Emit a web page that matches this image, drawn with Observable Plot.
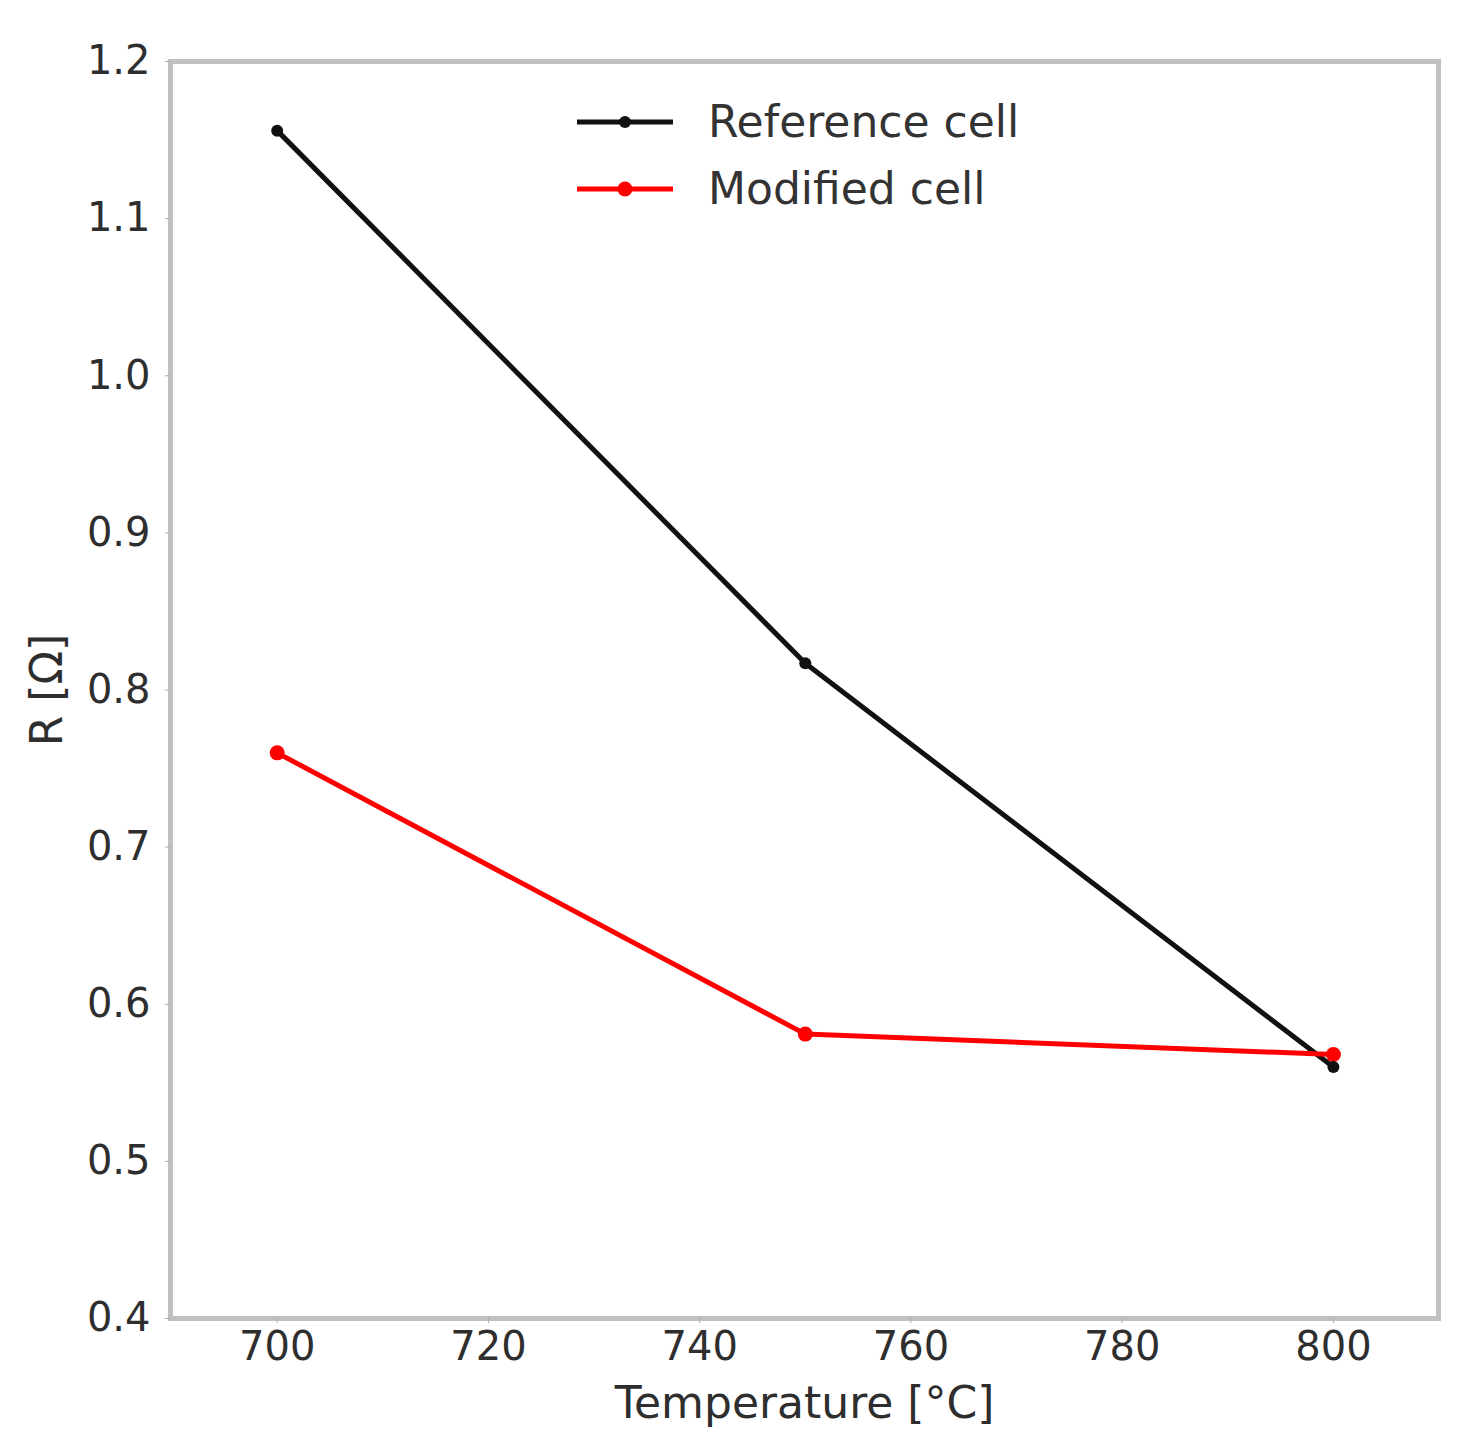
<!DOCTYPE html>
<html>
<head>
<meta charset="utf-8">
<script src="https://cdn.jsdelivr.net/npm/d3@7"></script>
<script src="https://cdn.jsdelivr.net/npm/@observablehq/plot@0.6"></script>
<style>
  html, body { margin: 0; padding: 0; background: #fff; }
  #wrap { position: relative; width: 1474px; height: 1450px; }
  #legend { position: absolute; left: 577px; top: 88px; font-family: "DejaVu Sans", sans-serif; font-size: 44px; color: #333; }
  .row { display: flex; align-items: center; height: 67px; }
  .row svg { margin-right: 35px; }
</style>
</head>
<body>
<div id="wrap"></div>
<script>
const temperatures = [700, 750, 800];
const referenceCell = [1.156, 0.817, 0.560];
const modifiedCell = [0.760, 0.581, 0.568];
const seriesNames = ["Reference cell", "Modified cell"];
const seriesColors = ["#111111", "#ff0000"];
const markerRadius = [6, 7.5];
const xTicks = [700, 720, 740, 760, 780, 800];
const yTicks = [0.4, 0.5, 0.6, 0.7, 0.8, 0.9, 1.0, 1.1, 1.2];

const rows = [];
[referenceCell, modifiedCell].forEach((vals, s) => {
  vals.forEach((v, i) => rows.push({series: seriesNames[s], t: temperatures[i], r: v}));
});

const chart = Plot.plot({
  width: 1474,
  height: 1450,
  marginLeft: 170,
  marginRight: 36,
  marginTop: 61,
  marginBottom: 132,
  style: {fontFamily: "DejaVu Sans, sans-serif", fontSize: "40px", color: "#2e2e2e", background: "#fff"},
  x: {domain: [689.9, 809.95]},
  y: {domain: [0.4, 1.2]},
  color: {domain: seriesNames, range: seriesColors},
  marks: [
    Plot.frame({stroke: "#c0c0c0", strokeWidth: 5}),
    Plot.axisX({ticks: [], tickSize: 0, label: "Temperature [°C]", labelAnchor: "center", labelArrow: "none", labelOffset: 99, fontSize: 44}),
    Plot.axisX({ticks: xTicks, tickFormat: d3.format("d"), tickSize: 5, tickPadding: 8, stroke: "#aaa", label: null, fontSize: 40}),
    Plot.axisY({ticks: yTicks, tickFormat: d3.format(".1f"), tickSize: 5, tickPadding: 15, stroke: "#aaa", label: null, fontSize: 40}),
    Plot.axisY({ticks: [], tickSize: 0, label: "R [Ω]", labelAnchor: "center", labelArrow: "none", labelOffset: 140, fontSize: 44}),
    Plot.line(rows, {x: "t", y: "r", z: "series", stroke: "series", strokeWidth: 5}),
    Plot.dot(rows.filter(d => d.series === seriesNames[1]), {x: "t", y: "r", fill: "series", r: markerRadius[1], symbol: "circle"}),
    Plot.dot(rows.filter(d => d.series === seriesNames[0]), {x: "t", y: "r", fill: "series", r: markerRadius[0], symbol: "circle"})
  ]
});

const wrap = document.getElementById("wrap");
wrap.appendChild(chart);

const legend = document.createElement("div");
legend.id = "legend";
seriesNames.forEach((name, i) => {
  const row = document.createElement("div");
  row.className = "row";
  row.innerHTML = `<svg width="96" height="20"><line x1="0" y1="10" x2="96" y2="10" stroke="${seriesColors[i]}" stroke-width="5"/><circle cx="48" cy="10" r="${markerRadius[i]}" fill="${seriesColors[i]}"/></svg><span>${name}</span>`;
  legend.appendChild(row);
});
wrap.appendChild(legend);
</script>
</body>
</html>
